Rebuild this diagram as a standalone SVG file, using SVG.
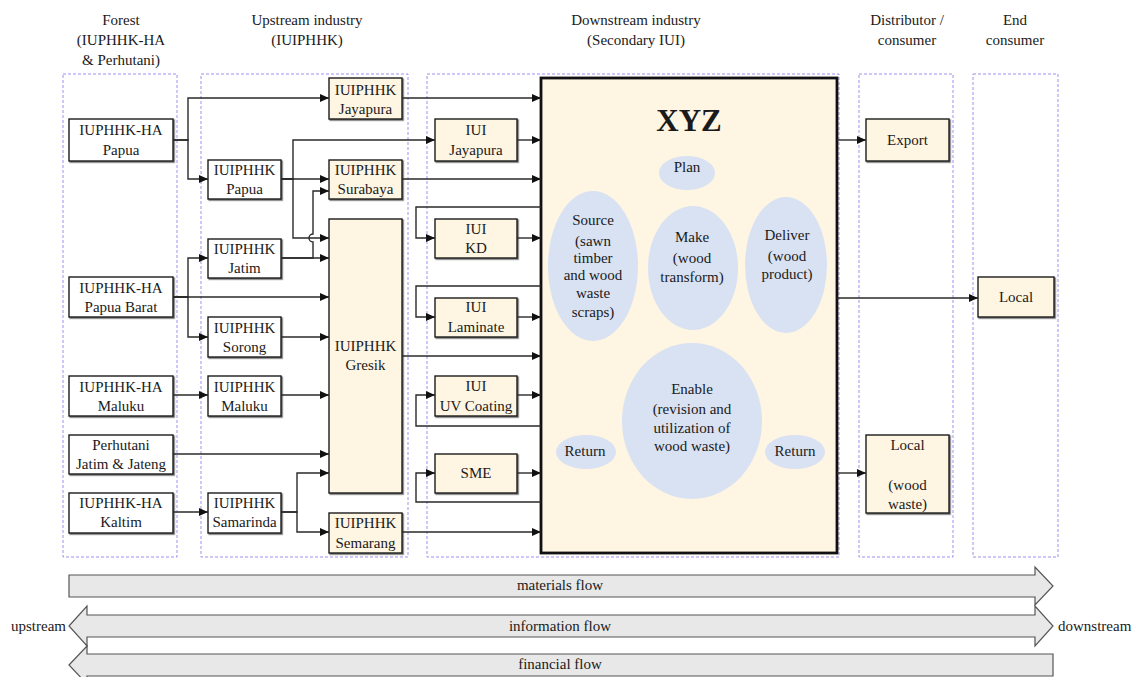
<svg xmlns="http://www.w3.org/2000/svg" width="1132" height="677" viewBox="0 0 1132 677">
<style>
text{font-family:"Liberation Serif","Times New Roman",serif;font-size:15px;fill:#1a1a1a;text-anchor:middle}
.col{fill:none;stroke:#9d8ff0;stroke-width:1;stroke-dasharray:3 2}
.n{fill:#fff;stroke:#1a1a1a;stroke-width:1.4;filter:url(#sh)}
.c{fill:#fef5e3;stroke:#1a1a1a;stroke-width:1.4;filter:url(#sh)}
.e{fill:#d9e2f3}
.conn path{fill:none;stroke:#2a2a2a;stroke-width:1.4;marker-end:url(#ah)}
.flow{fill:#e8e8e8;stroke:#555;stroke-width:1.2}
</style>
<defs>
<marker id="ah" markerUnits="userSpaceOnUse" markerWidth="10" markerHeight="10" refX="9" refY="4" orient="auto"><path d="M0,0 L9,4 L0,8 z" fill="#111"/></marker>
<filter id="sh" x="-5%" y="-5%" width="115%" height="115%"><feDropShadow dx="1.2" dy="1.2" stdDeviation="0.4" flood-color="#333" flood-opacity="0.7"/></filter>
</defs>
<rect width="1132" height="677" fill="#fff"/>
<g id="headers">
<text x="121" y="25">Forest</text><text x="121" y="45">(IUPHHK-HA</text><text x="121" y="65">&amp; Perhutani)</text>
<text x="307" y="25">Upstream industry</text><text x="307" y="45">(IUIPHHK)</text>
<text x="636" y="25">Downstream industry</text><text x="636" y="45">(Secondary IUI)</text>
<text x="907" y="25">Distributor /</text><text x="907" y="45">consumer</text>
<text x="1015" y="25">End</text><text x="1015" y="45">consumer</text>
</g>
<g id="columns">
<rect class="col" x="63" y="74" width="114" height="483"/>
<rect class="col" x="201" y="74" width="207" height="483"/>
<rect class="col" x="427" y="74" width="412" height="483"/>
<rect class="col" x="859" y="74" width="94" height="483"/>
<rect class="col" x="973" y="74" width="85" height="483"/>
</g>
<g id="xyz">
<rect x="541" y="78" width="296" height="475" fill="#fef5e3" stroke="#111" stroke-width="2.8"/>
<text x="689" y="131" style="font-size:31px;font-weight:bold">XYZ</text>
<ellipse class="e" cx="687" cy="173" rx="28" ry="17"/><text x="687" y="172">Plan</text>
<ellipse class="e" cx="593" cy="266" rx="45" ry="75"/>
<text x="593" y="225">Source</text><text x="593" y="246">(sawn</text><text x="593" y="263">timber</text><text x="593" y="280">and wood</text><text x="593" y="298">waste</text><text x="593" y="317">scraps)</text>
<ellipse class="e" cx="693" cy="268" rx="45" ry="62"/>
<text x="692" y="242">Make</text><text x="692" y="263">(wood</text><text x="692" y="282">transform)</text>
<ellipse class="e" cx="786" cy="265" rx="41" ry="68"/>
<text x="787" y="240">Deliver</text><text x="787" y="261">(wood</text><text x="787" y="279">product)</text>
<ellipse class="e" cx="692" cy="421" rx="70" ry="78"/>
<text x="692" y="394">Enable</text><text x="692" y="414">(revision and</text><text x="692" y="433">utilization of</text><text x="692" y="451">wood waste)</text>
<ellipse class="e" cx="586" cy="452" rx="30" ry="17"/><text x="585" y="456">Return</text>
<ellipse class="e" cx="795" cy="452" rx="30" ry="17"/><text x="795" y="456">Return</text>
</g>
<g id="n-ha-papua"><rect class="n" x="69" y="119" width="104" height="42"/><text x="121" y="135">IUPHHK-HA</text><text x="121" y="155">Papua</text></g>
<g id="n-ha-papua-barat"><rect class="n" x="69" y="277" width="104" height="40"/><text x="121" y="293">IUPHHK-HA</text><text x="121" y="312">Papua Barat</text></g>
<g id="n-ha-maluku"><rect class="n" x="69" y="376" width="104" height="40"/><text x="121" y="392">IUPHHK-HA</text><text x="121" y="411">Maluku</text></g>
<g id="n-perhutani"><rect class="n" x="69" y="435" width="104" height="39"/><text x="121" y="450">Perhutani</text><text x="121" y="469">Jatim &amp; Jateng</text></g>
<g id="n-ha-kaltim"><rect class="n" x="69" y="493" width="104" height="40"/><text x="121" y="508">IUPHHK-HA</text><text x="121" y="527">Kaltim</text></g>
<g id="n-papua"><rect class="n" x="208" y="160" width="73" height="39"/><text x="244.5" y="175">IUIPHHK</text><text x="244.5" y="194">Papua</text></g>
<g id="n-jatim"><rect class="n" x="208" y="239" width="73" height="39"/><text x="244.5" y="254">IUIPHHK</text><text x="244.5" y="273">Jatim</text></g>
<g id="n-sorong"><rect class="n" x="208" y="317" width="73" height="40"/><text x="244.5" y="333">IUIPHHK</text><text x="244.5" y="352">Sorong</text></g>
<g id="n-maluku"><rect class="n" x="208" y="376" width="73" height="40"/><text x="244.5" y="392">IUIPHHK</text><text x="244.5" y="411">Maluku</text></g>
<g id="n-samarinda"><rect class="n" x="208" y="493" width="73" height="40"/><text x="244.5" y="508">IUIPHHK</text><text x="244.5" y="527">Samarinda</text></g>
<g id="n-jayapura"><rect class="c" x="329" y="78" width="73" height="41"/><text x="365.5" y="95">IUIPHHK</text><text x="365.5" y="114">Jayapura</text></g>
<g id="n-surabaya"><rect class="c" x="329" y="160" width="73" height="39"/><text x="365.5" y="175">IUIPHHK</text><text x="365.5" y="194">Surabaya</text></g>
<g id="n-gresik"><rect class="c" x="329" y="219" width="73" height="274"/><text x="365.5" y="351">IUIPHHK</text><text x="365.5" y="370">Gresik</text></g>
<g id="n-semarang"><rect class="c" x="329" y="513" width="73" height="40"/><text x="365.5" y="528">IUIPHHK</text><text x="365.5" y="548">Semarang</text></g>
<g id="n-iui-jayapura"><rect class="c" x="435" y="119" width="82" height="42"/><text x="476" y="135">IUI</text><text x="476" y="155">Jayapura</text></g>
<g id="n-iui-kd"><rect class="c" x="435" y="219" width="82" height="39"/><text x="476" y="234">IUI</text><text x="476" y="253">KD</text></g>
<g id="n-iui-laminate"><rect class="c" x="435" y="298" width="82" height="39"/><text x="476" y="312">IUI</text><text x="476" y="332">Laminate</text></g>
<g id="n-iui-uv"><rect class="c" x="435" y="376" width="82" height="40"/><text x="476" y="391">IUI</text><text x="476" y="411">UV Coating</text></g>
<g id="n-sme"><rect class="c" x="435" y="454" width="82" height="39"/><text x="476" y="478">SME</text></g>
<g id="n-export"><rect class="c" x="866" y="119" width="83" height="42"/><text x="907.5" y="145">Export</text></g>
<g id="n-local-waste"><rect class="c" x="866" y="435" width="83" height="78"/><text x="907.5" y="450">Local</text><text x="907.5" y="490">(wood</text><text x="907.5" y="509">waste)</text></g>
<g id="n-local"><rect class="c" x="978" y="277" width="76" height="40"/><text x="1016" y="302">Local</text></g>
<g id="connectors" class="conn">
<path d="M173,140 H188 V98 H329"/>
<path d="M173,140 H188 V179 H208"/>
<path d="M281,179 H329"/>
<path d="M281,179 H293 V140 H435"/>
<path d="M281,179 H293 V238 H329"/>
<path d="M281,258 H329"/>
<path d="M281,258 H313 V242 A4,4 0 0 1 313,234 V191 H329"/>
<path d="M173,297 H329"/>
<path d="M173,297 H188 V258 H208"/>
<path d="M173,297 H188 V337 H208"/>
<path d="M281,337 H329"/>
<path d="M173,395 H208"/>
<path d="M281,395 H329"/>
<path d="M173,454 H329"/>
<path d="M173,512 H208"/>
<path d="M281,512 H297 V473 H329"/>
<path d="M281,512 H297 V532 H329"/>
<path d="M402,98 H541"/>
<path d="M517,140 H541"/>
<path d="M402,179 H541"/>
<path d="M541,207 H416 V238 H435"/>
<path d="M517,238 H541"/>
<path d="M541,286 H416 V317 H435"/>
<path d="M517,317 H541"/>
<path d="M402,356 H541"/>
<path d="M541,426 H416 V395 H435"/>
<path d="M517,395 H541"/>
<path d="M541,502 H416 V473 H435"/>
<path d="M517,473 H541"/>
<path d="M402,532 H541"/>
<path d="M837,140 H866"/>
<path d="M837,298 H978"/>
<path d="M837,473 H866"/>
</g>
<g id="flows">
<path class="flow" d="M69,575 H1035 V567 L1053,586 L1035,605 V597 H69 Z"/>
<text x="560" y="590">materials flow</text>
<path class="flow" d="M69,626 L87,606 V615 H1035 V606 L1053,626 L1035,646 V637 H87 V646 Z"/>
<text x="560" y="631">information flow</text>
<path class="flow" d="M69,665 L87,646 V654 H1053 V676 H87 V684 Z"/>
<text x="560" y="669">financial flow</text>
<text x="66" y="631" style="text-anchor:end">upstream</text>
<text x="1058" y="631" style="text-anchor:start">downstream</text>
</g>
</svg>
